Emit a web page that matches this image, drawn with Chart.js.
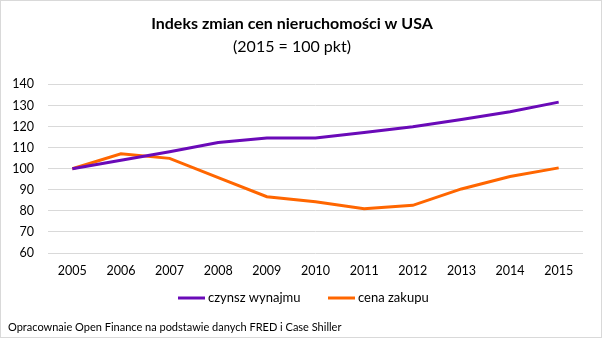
<!DOCTYPE html>
<html>
<head>
<meta charset="utf-8">
<script src="https://cdn.jsdelivr.net/npm/chart.js@4"></script>
<style>
  html, body { margin: 0; padding: 0; background: #fff; }
  #frame { width: 602px; height: 338px; box-sizing: border-box; border: 1px solid #d9d9d9; position: relative; }
  #wrap { width: 600px; height: 336px; position: relative; }
</style>
</head>
<body>
<div id="frame"><div id="wrap"><canvas id="c"></canvas></div></div>
<script>
const years = ['2005','2006','2007','2008','2009','2010','2011','2012','2013','2014','2015'];
const rentIndex = [100, 104.0, 108.0, 112.4, 114.6, 114.6, 117.2, 119.9, 123.3, 127.0, 131.6];
const priceIndex = [100, 107.1, 104.9, 95.8, 86.7, 84.3, 81.0, 82.6, 90.4, 96.3, 100.4];
const yTicks = [60, 70, 80, 90, 100, 110, 120, 130, 140];
const seriesNames = ['czynsz wynajmu', 'cena zakupu'];
const sourceNote = 'Opracownaie Open Finance na podstawie danych FRED i Case Shiller';

const FONT = 'Lato, "Open Sans", sans-serif';

// Legend row and source note under the plot, drawn from the dataset styles
const footerPlugin = {
  id: 'footer',
  afterDraw(chart) {
    const ctx = chart.ctx;
    ctx.save();
    ctx.textBaseline = 'middle';
    ctx.textAlign = 'left';
    ctx.font = '13px ' + FONT;
    const legendY = 297;
    const starts = [177, 327];
    chart.data.datasets.forEach((d, i) => {
      const x = starts[i];
      ctx.strokeStyle = d.borderColor;
      ctx.lineWidth = 3;
      ctx.beginPath();
      ctx.moveTo(x, legendY);
      ctx.lineTo(x + 27, legendY);
      ctx.stroke();
      ctx.fillStyle = '#000';
      ctx.fillText(d.label, x + 30, legendY);
    });
    ctx.font = '11px ' + FONT;
    ctx.fillText(sourceNote, 7, 326);
    ctx.restore();
  }
};

new Chart(document.getElementById('c'), {
  type: 'line',
  data: {
    labels: years,
    datasets: [
      { label: seriesNames[0], data: rentIndex, borderColor: '#6A0AB8', backgroundColor: '#6A0AB8', borderWidth: 3, pointRadius: 0, tension: 0 },
      { label: seriesNames[1], data: priceIndex, borderColor: '#FF6600', backgroundColor: '#FF6600', borderWidth: 3, pointRadius: 0, tension: 0 }
    ]
  },
  options: {
    responsive: true,
    maintainAspectRatio: false,
    animation: false,
    layout: { padding: { left: 0, right: 18, top: 0, bottom: 56 } },
    plugins: {
      title: {
        display: true,
        text: 'Indeks zmian cen nieruchomości w USA',
        color: '#000',
        font: { family: FONT, size: 16, weight: 'bold' },
        padding: { top: 13, bottom: 4 }
      },
      subtitle: {
        display: true,
        text: '(2015 = 100 pkt)',
        color: '#000',
        font: { family: FONT, size: 16, weight: 'normal' },
        padding: { top: 0, bottom: 28 }
      },
      legend: { display: false },
      tooltip: { enabled: false }
    },
    scales: {
      x: {
        offset: true,
        grid: { display: false, drawTicks: false },
        border: { display: false },
        ticks: { color: '#000', font: { family: FONT, size: 12.5 }, padding: 10, maxRotation: 0, autoSkip: false },
        afterFit(s) { s.height = 28; }
      },
      y: {
        min: 60,
        max: 140,
        afterBuildTicks(s) { s.ticks = yTicks.map(v => ({ value: v })); },
        grid: { color: '#d9d9d9', drawTicks: false, lineWidth: 1 },
        border: { display: false },
        ticks: { color: '#000', font: { family: FONT, size: 12.5 }, padding: 14 },
        afterFit(s) { s.width = 47; }
      }
    }
  },
  plugins: [footerPlugin]
});
</script>
</body>
</html>
